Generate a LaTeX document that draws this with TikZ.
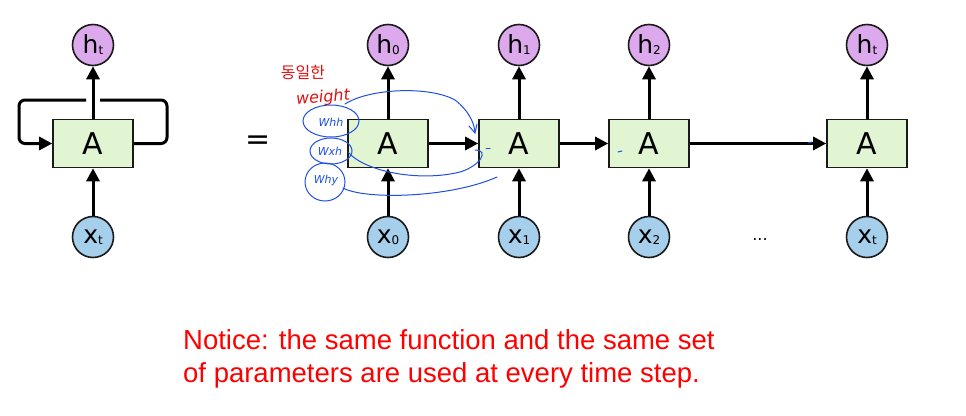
\documentclass[tikz,border=0pt]{standalone}
\usepackage{fontspec}
\setmainfont{DejaVu Sans}
\newfontfamily\notefont{Liberation Sans}
\newfontfamily\kofont{Noto Sans CJK KR}
\usetikzlibrary{arrows.meta}
\definecolor{boxfill}{HTML}{E1F5D3}
\definecolor{hfill}{HTML}{DCAAEC}
\definecolor{xfill}{HTML}{A6CFEC}
\definecolor{ink}{HTML}{1A1A1A}
\definecolor{pen}{HTML}{1F4FE0}
\definecolor{redpen}{HTML}{E01010}
\tikzset{
  cell/.style={draw=ink, line width=1.6pt, fill=boxfill, minimum width=80pt, minimum height=48pt, inner sep=0pt, font=\fontsize{30}{30}\selectfont},
  hnode/.style={circle, draw=ink, line width=1.6pt, fill=hfill, minimum size=41pt, inner sep=0pt, font=\fontsize{25}{25}\selectfont},
  xnode/.style={circle, draw=ink, line width=1.6pt, fill=xfill, minimum size=41pt, inner sep=0pt, font=\fontsize{25}{25}\selectfont},
  flow/.style={line width=3pt, draw=black, -{Triangle[length=13pt,width=13pt]}},
  plain/.style={line width=3pt, draw=black},
  hand/.style={draw=pen, line width=1pt, line cap=round},
  pentext/.style={text=pen, inner sep=0pt, font=\fontsize{11}{11}\selectfont\itshape},
}
\newcommand{\sbs}[1]{\raisebox{-1pt}{\fontsize{12}{12}\selectfont #1}}
\begin{document}
\begin{tikzpicture}[x=1pt,y=-1pt]
\useasboundingbox (0,0) rectangle (966,415);
% left folded unit
\node[cell] (A) at (93,143.5) {A};
\node[hnode] (H) at (93,45) {h\sbs{t}};
\node[xnode] (X) at (93,237) {x\sbs{t}};
\coordinate (lr1) at (167,143.5);
\coordinate (lr2) at (167,100);
\coordinate (gapR) at (100,100);
\coordinate (gapL) at (86,100);
\coordinate (ll1) at (19,100);
\coordinate (ll2) at (19,143.5);
\draw[plain, rounded corners=6pt] (A.east) -- (lr1) -- (lr2) -- (gapR);
\draw[flow, rounded corners=6pt] (gapL) -- (ll1) -- (ll2) -- (A.west);
\draw[flow] (A.north) -- (H.south);
\draw[flow] (X.north) -- (A.south);
% equals
\node[font=\fontsize{30}{30}\selectfont] (eq) at (258,143) {=};
% unrolled
\foreach \n/\xx/\s in {0/388/0, 1/519/1, 2/649/2, t/867/t}{
  \node[cell] (A\n) at (\xx,143.5) {A};
  \node[hnode] (H\n) at (\xx,45) {h\sbs{\s}};
  \node[xnode] (X\n) at (\xx,237) {x\sbs{\s}};
  \draw[flow] (A\n.north) -- (H\n.south);
  \draw[flow] (X\n.north) -- (A\n.south);
}
\draw[flow] (A0.east) -- (A1.west);
\draw[flow] (A1.east) -- (A2.west);
\draw[flow] (A2.east) -- (At.west);
\node[font=\fontsize{16}{16}\selectfont] (dots) at (760,240) {...};
% handwritten annotation
\node[text=redpen, inner sep=0pt, font=\kofont\fontsize{16}{16}\selectfont] (ko) at (303,72) {동일한};
\node[text=redpen, inner sep=0pt, font=\fontsize{16}{16}\selectfont\itshape, rotate=5] (wt) at (323,98) {weight};
\node[pentext] (whh) at (331,122) {Whh};
\node[pentext] (wxh) at (330,151) {Wxh};
\node[pentext] (why) at (326,180) {Why};
\draw[hand] (331,121) ellipse [x radius=28pt, y radius=16pt];
\draw[hand] (331,151) ellipse [x radius=21pt, y radius=13pt];
\draw[hand] (325,182) ellipse [x radius=20pt, y radius=19pt];
\draw[hand] (345,104) .. controls (370,88) and (430,86) .. (455,100) .. controls (468,110) and (474,122) .. (475,132);
\draw[hand] (469,126) -- (475,133) -- (477,124);
\draw[hand] (348,152) .. controls (365,172) and (420,182) .. (460,172) .. controls (480,166) and (490,150) .. (475,150);
\draw[hand] (343,188) .. controls (365,200) and (450,198) .. (497,177);
\draw[hand] (486,148) -- (490,148);
\draw[hand] (618,152) -- (622,151);
\draw[hand] (808,143) -- (812,142);
% note
\node[anchor=north west, align=left, text={rgb,255:red,255;green,0;blue,0}, font=\notefont\fontsize{27.5}{33}\selectfont, inner sep=0pt] (note) at (183,329) {Notice: the same function and the same set\\of parameters are used at every time step.};
\end{tikzpicture}
\end{document}
